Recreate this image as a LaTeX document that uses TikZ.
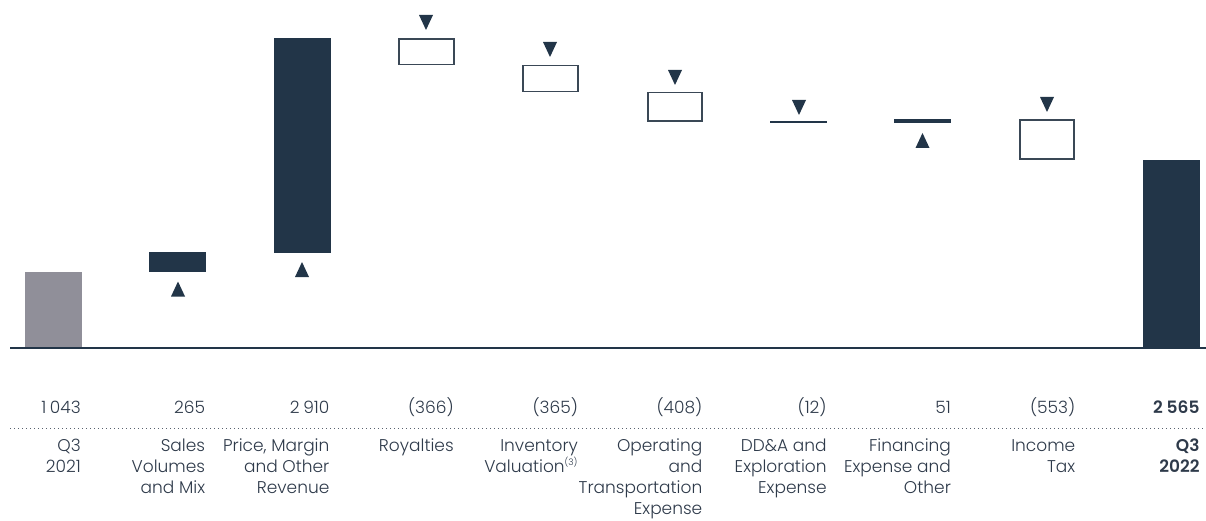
\documentclass[tikz,border=0pt]{standalone}
\usepackage{fontspec}
\setmainfont{Poppins}[UprightFont=* Light, BoldFont=* SemiBold]
\usepackage{tikz}

\definecolor{navy}{HTML}{223548}
\definecolor{ink}{HTML}{2E3A4A}
\definecolor{greybar}{HTML}{908F99}
\definecolor{boxline}{HTML}{3A4856}

\tikzset{
 valtext/.style={anchor=base east, inner sep=0pt, text=ink, font=\fontsize{17}{21}\selectfont},
 lbltext/.style={anchor=north east, inner sep=0pt, align=right, text=ink, font=\fontsize{17}{21}\selectfont},
 downbox/.style={draw=boxline, line width=1.6pt, fill=white},
 upmark/.pic={\fill[navy] (-7,7.5) -- (7,7.5) -- (0,-7.5) -- cycle;},
 downmark/.pic={\fill[navy] (-7,-7.5) -- (7,-7.5) -- (0,7.5) -- cycle;}
}
\newcommand{\gap}{\hspace{0.22em}}

\begin{document}
\begin{tikzpicture}[x=1pt, y=-1pt]
\useasboundingbox (0,0) rectangle (1206,521);

% bars
\fill[greybar] (25,272) rectangle (82,348);
\fill[navy] (149,252) rectangle (206,272);
\fill[navy] (274,38) rectangle (331,253);
\draw[downbox] (398.8,38.8) rectangle (454.2,64.6);
\draw[downbox] (522.8,65.4) rectangle (578.2,91.6);
\draw[downbox] (647.8,92.4) rectangle (702.2,121.2);
\draw[navy, line width=1.5pt] (770,122) -- (827,122);
\fill[navy] (894,119.3) rectangle (951,122.8);
\draw[downbox] (1019.8,119.8) rectangle (1074.2,159.2);
\fill[navy] (1143,160) rectangle (1200,348);

\draw[navy, line width=1.5pt] (10,348) -- (1206,348);

% markers
\foreach \point in {(178,289),(302,269.5),(922.5,140.5)} {
 \pic at \point {upmark};
}
\foreach \point in {(426,22.5),(550,49.5),(675,77.5),(799,107.5),(1047,104.5)} {
 \pic at \point {downmark};
}

\draw[ink!80, line width=1pt, dash pattern=on 1pt off 3pt] (10,428) -- (1206,428);

% values and labels
\foreach \v/\t [count=\i] in {1\gap043/{Q3\\2021}, 265/{Sales\\Volumes\\and Mix}, 2\gap910/{Price, Margin\\and Other\\Revenue}, (366)/{Royalties}, (365)/{Inventory\\Valuation\textsuperscript{\fontsize{9}{9}\selectfont(3)}}, (408)/{Operating\\and\\Transportation\\Expense}, (12)/{DD\&A and\\Exploration\\Expense}, 51/{Financing\\Expense and\\Other}, (553)/{Income\\Tax}, \textbf{2\gap565}/{\textbf{Q3}\\\textbf{2022}}} {
 \node[valtext] (val\i) at ({81+124.3*(\i-1)},413) {\v};
 \node[lbltext] (lbl\i) at ({81+124.3*(\i-1)},439) {\t};
}

\end{tikzpicture}
\end{document}
